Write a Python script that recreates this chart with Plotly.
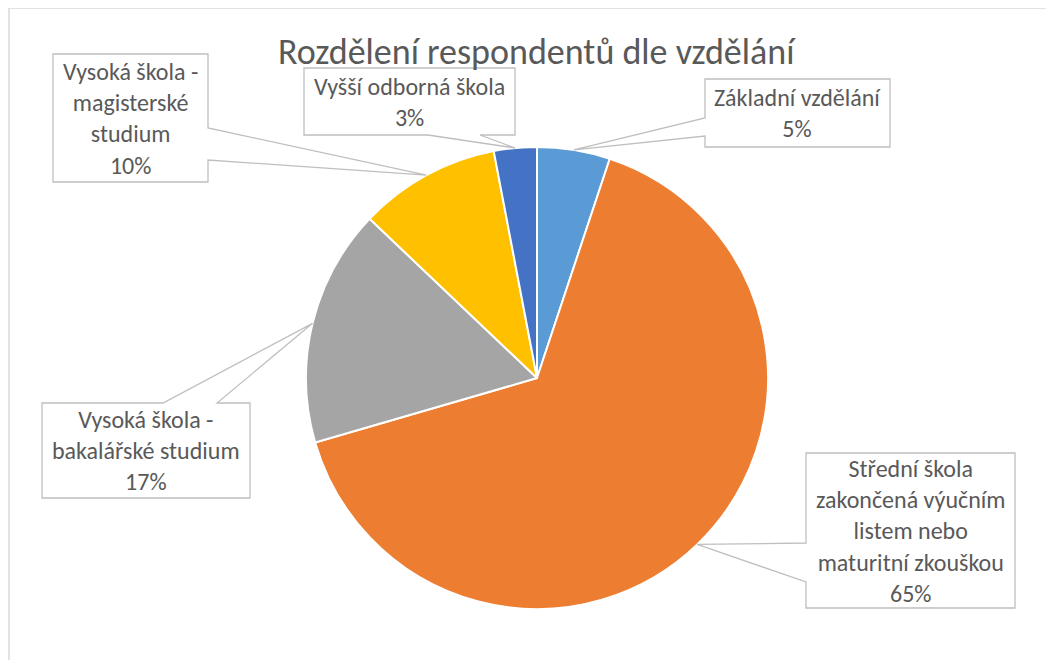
import math
import plotly.graph_objects as go

# ---- data ----
categories = [
    "Základní vzdělání",
    "Střední škola zakončená výučním listem nebo maturitní zkouškou",
    "Vysoká škola - bakalářské studium",
    "Vysoká škola - magisterské studium",
    "Vyšší odborná škola",
]
shares = [5.1, 65.4, 16.6, 9.9, 3.0]
colors = ["#5B9BD5", "#ED7D31", "#A5A5A5", "#FFC000", "#4472C4"]
label_lines = [
    ["Základní vzdělání"],
    ["Střední škola", "zakončená výučním", "listem nebo", "maturitní zkouškou"],
    ["Vysoká škola -", "bakalářské studium"],
    ["Vysoká škola -", "magisterské", "studium"],
    ["Vyšší odborná škola"],
]
title_text = "Rozdělení respondentů dle vzdělání"

# ---- layout constants (page pixels) ----
OFF = 8  # page body margin
W, H = 1054 - 2 * OFF, 668 - 2 * OFF  # figure size fits inside the window
CX, CY, R = 537, 378, 231
FONT = "Carlito, Lato, sans-serif"
TXT = "#595959"
EDGE = "#BFBFBF"

# callout boxes: x0, y0, x1, y1, side where the pointer leaves, pointer base a, b
boxes = [
    (705, 79, 890, 147, "left", 118, 136),
    (806, 453, 1015, 608, "left", 543, 582),
    (42, 403, 250, 498, "top", 163, 217),
    (53, 54, 208, 182, "right", 128, 160),
    (304, 68, 515, 135, "bottom", 428, 480),
]


def px(x, y):
    return (x - OFF) / W, 1 - (y - OFF) / H


def path_from(points):
    s = ""
    for i, (x, y) in enumerate(points):
        u, v = px(x, y)
        s += ("M" if i == 0 else "L") + f"{u:.5f},{v:.5f} "
    return s + "Z"


dx0, dy1 = px(CX - R, CY - R)
dx1, dy0 = px(CX + R, CY + R)

fig = go.Figure()
fig.add_trace(go.Pie(
    labels=categories,
    values=shares,
    sort=False,
    direction="clockwise",
    rotation=0,
    marker=dict(colors=colors, line=dict(color="white", width=2)),
    textinfo="none",
    hoverinfo="label+percent",
    showlegend=False,
    domain=dict(x=[dx0, dx1], y=[dy0, dy1]),
))

total = sum(shares)
cum = 0.0
shapes = []
annotations = []
for v, lines, box in zip(shares, label_lines, boxes):
    theta = 2 * math.pi * (cum + v / 2) / total
    cum += v
    tx = CX + R * math.sin(theta)
    ty = CY - R * math.cos(theta)
    x0, y0, x1, y1, side, a, b = box
    TL, TR, BR, BL = (x0, y0), (x1, y0), (x1, y1), (x0, y1)
    tip = (tx, ty)
    if side == "top":
        pts = [TL, (a, y0), tip, (b, y0), TR, BR, BL]
    elif side == "right":
        pts = [TL, TR, (x1, a), tip, (x1, b), BR, BL]
    elif side == "bottom":
        pts = [TL, TR, BR, (b, y1), tip, (a, y1), BL]
    else:
        pts = [TL, TR, BR, BL, (x0, b), tip, (x0, a)]
    shapes.append(dict(type="path", xref="paper", yref="paper", path=path_from(pts),
                       fillcolor="white", line=dict(color=EDGE, width=1.3), layer="above"))
    cxp, cyp = px((x0 + x1) / 2, (y0 + y1) / 2)
    annotations.append(dict(
        xref="paper", yref="paper", x=cxp, y=cyp, xanchor="center", yanchor="middle",
        text="<br>".join(lines + [f"{round(v)}%"]), showarrow=False, align="center",
        font=dict(family=FONT, size=24, color=TXT),
    ))

# chart-area border (top and left edges visible)
bx, by = px(9, 8)
shapes.append(dict(type="line", xref="paper", yref="paper", x0=bx, x1=1, y0=by, y1=by,
                   line=dict(color="#D9D9D9", width=1.5), layer="below"))
shapes.append(dict(type="line", xref="paper", yref="paper", x0=bx, x1=bx, y0=0, y1=by,
                   line=dict(color="#D9D9D9", width=1.5), layer="below"))

tx_, ty_ = px(CX, 52)
annotations.append(dict(xref="paper", yref="paper", x=tx_, y=ty_, xanchor="center", yanchor="middle",
                        text=title_text, showarrow=False,
                        font=dict(family=FONT, size=36, color=TXT, weight=300)))

fig.update_layout(
    width=W, height=H,
    margin=dict(l=0, r=0, t=0, b=0),
    paper_bgcolor="white", plot_bgcolor="white",
    shapes=shapes, annotations=annotations,
)
fig.write_html("out.html")
